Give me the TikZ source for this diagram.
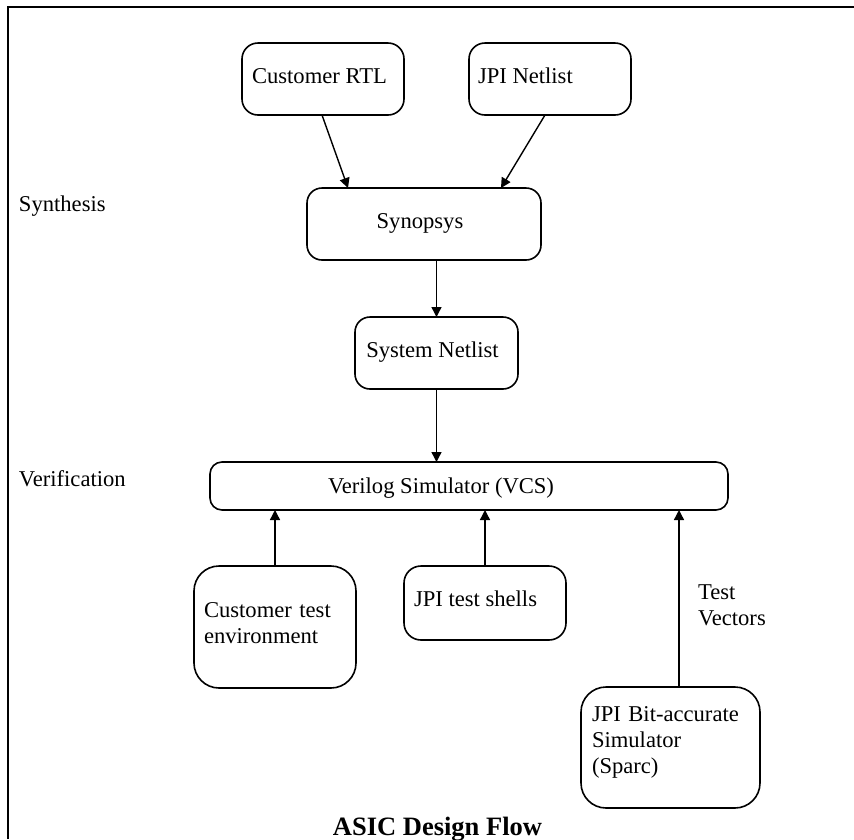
\documentclass[tikz,border=0pt]{standalone}
\usepackage{fontspec}
\setmainfont{Liberation Serif}
\usetikzlibrary{arrows.meta,calc}
\begin{document}
\begin{tikzpicture}[x=1pt,y=-1pt,
  box/.style={draw, line width=1.6pt, inner sep=0pt, outer sep=0pt},
  txt/.style={inner sep=0pt, outer sep=0pt, font=\fontsize{22.6}{26}\selectfont, anchor=base west},
  mtxt/.style={txt, align=left, text width=#1},
  flow/.style={line width=1.4pt, -{Triangle[length=10pt,width=10pt]}},
  frame/.style={line width=2.4pt}]
\useasboundingbox (0,0) rectangle (854,839);
% frame
\coordinate (fbl) at (8,839);
\coordinate (ftl) at (8,7);
\coordinate (ftr) at (854,7);
\draw[frame] (fbl) -- (ftl) -- (ftr);
% boxes
\node[box, rounded corners=16pt, minimum width=162pt, minimum height=72pt] (rtl) at (323,79) {};
\node[box, rounded corners=16pt, minimum width=162pt, minimum height=72pt] (jpin) at (550,79) {};
\node[box, rounded corners=15pt, minimum width=234pt, minimum height=72pt] (syn) at (424,224) {};
\node[box, rounded corners=15pt, minimum width=163pt, minimum height=72pt] (sysn) at (436.5,353) {};
\node[box, rounded corners=12pt, minimum width=518pt, minimum height=48pt] (vcs) at (469,486) {};
\node[box, rounded corners=25pt, minimum width=162pt, minimum height=122pt] (cte) at (275,627) {};
\node[box, rounded corners=17pt, minimum width=162pt, minimum height=74pt] (jts) at (485,603) {};
\node[box, rounded corners=25pt, minimum width=179pt, minimum height=121pt] (bit) at (670.5,747.5) {};
% texts
\node[txt] (trtl) at (252,83) {Customer RTL};
\node[txt] (tjpin) at (478,83) {JPI Netlist};
\node[txt] (tsynth) at (19,211) {Synthesis};
\node[txt, anchor=base] (tsyn) at (420,228) {Synopsys};
\node[txt, anchor=base] (tsysn) at (432.5,357) {System Netlist};
\node[txt] (tver) at (19,486) {Verification};
\node[txt, anchor=base] (tvcs) at (441,493) {Verilog Simulator (VCS)};
\node[mtxt=150pt] (tcte) at (204,617) {Customer test\\environment};
\node[txt] (tjts) at (414,606) {JPI test shells};
\node[mtxt=100pt] (ttv) at (698,599) {Test\\Vectors};
\node[mtxt=170pt] (tbit) at (592,721) {JPI Bit-accurate\\Simulator\\(Sparc)};
\node[inner sep=0pt, font=\fontsize{26.5}{30}\selectfont\bfseries, anchor=base] (title) at (437.5,835) {ASIC Design Flow};
% connectors
\draw[flow] ($(rtl.south)+(-1,0)$) -- ($(syn.north west)+(41,0)$);
\draw[flow] ($(jpin.south)+(-5,0)$) -- ($(syn.north west)+(194,0)$);
\draw[flow] (syn.south -| sysn.north) -- (sysn.north);
\draw[flow] (sysn.south) -- (sysn.south |- vcs.north);
\draw[flow] (cte.north) -- (cte.north |- vcs.south);
\draw[flow] (jts.north) -- (jts.north |- vcs.south);
\coordinate (bitout) at ($(bit.north)+(8.5,0)$);
\draw[flow] (bitout) -- (bitout |- vcs.south);
\end{tikzpicture}
\end{document}
